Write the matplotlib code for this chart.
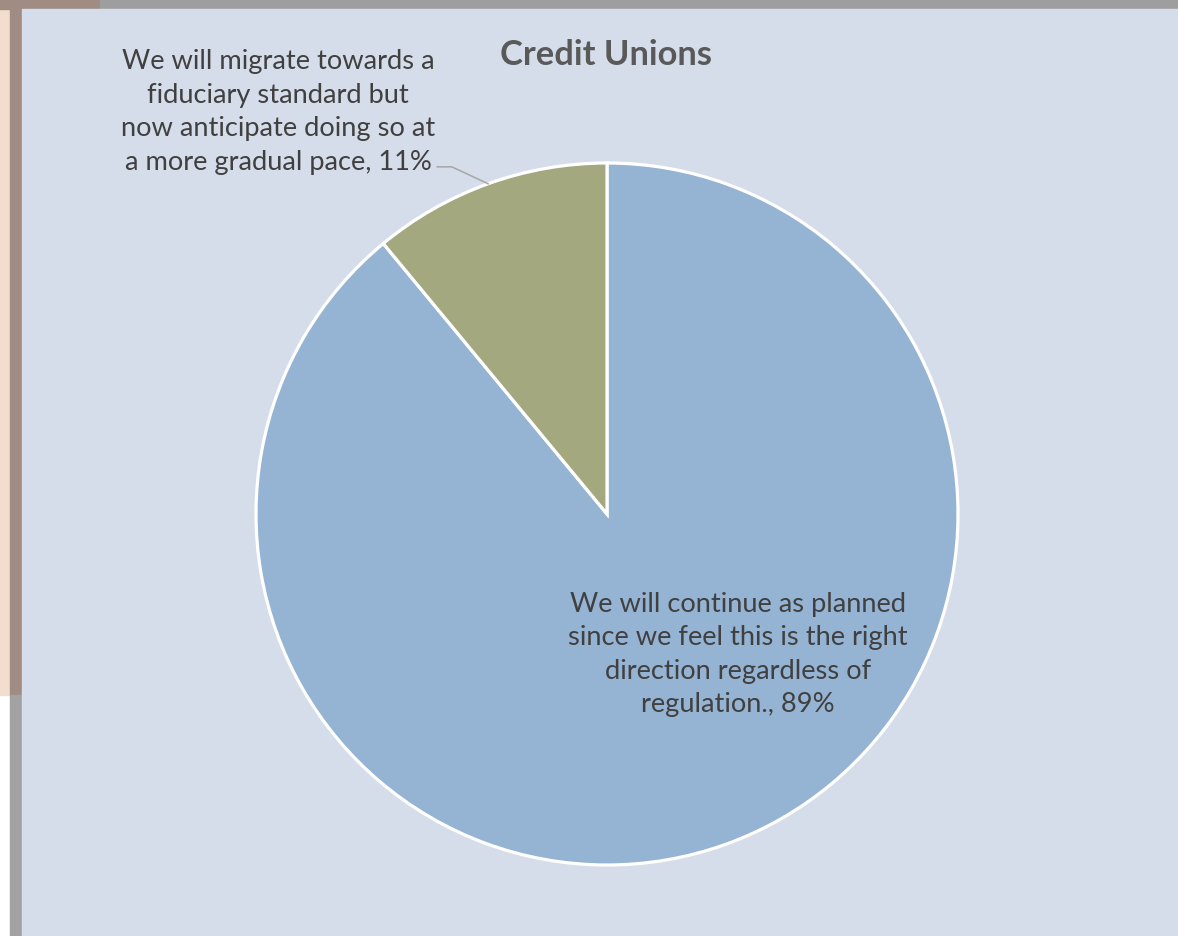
import numpy as np
import matplotlib.pyplot as plt
from matplotlib.patches import Rectangle

plt.rcParams['font.family'] = ['Lato', 'DejaVu Sans']

title = "Credit Unions"
labels = ["We will continue as planned\nsince we feel this is the right\ndirection regardless of\nregulation., 89%",
          "We will migrate towards a\nfiduciary standard but\nnow anticipate doing so at\na more gradual pace, 11%"]
values = [89, 11]
colors = ["#95B3D3", "#A3A87E"]

W, H = 1178, 936
fig = plt.figure(figsize=(W / 100, H / 100), dpi=100)
fig.patch.set_facecolor("white")

# frame / shadow pieces around the chart area
def px_rect(x0, y0, x1, y1, color):
    fig.patches.append(Rectangle((x0 / W, 1 - y1 / H), (x1 - x0) / W, (y1 - y0) / H,
                                 transform=fig.transFigure, color=color, zorder=-5))

px_rect(0, 0, 12, 695, "#F3DDCE")
px_rect(10, 0, 22, 695, "#A08C82")
px_rect(0, 0, 100, 9, "#A08C82")
px_rect(100, 0, W, 9, "#9E9E9E")
px_rect(10, 695, 22, H, "#A2A2A2")
px_rect(22, 9, W, H, "#D6DDEA")

# pie axes: centre (607,514) px, radius 351 px
cx, cy, r = 607, 514, 351
ax = fig.add_axes([(cx - r) / W, 1 - (cy + r) / H, 2 * r / W, 2 * r / H])
wedges, _ = ax.pie(values, colors=colors, startangle=90, counterclock=False,
                   wedgeprops=dict(edgecolor="white", linewidth=2.3))
ax.set_xlim(-1, 1)
ax.set_ylim(-1, 1)
ax.set_aspect("equal")
ax.axis("off")
for w in wedges:
    w.set_clip_on(False)

tc = "#404040"
ax.text(0.373, -0.40, labels[0], ha="center", va="center", fontsize=19.6,
        color=tc, linespacing=1.43, clip_on=False)
ax.text(-0.937, 1.145, labels[1], ha="center", va="center", fontsize=19.6,
        color=tc, linespacing=1.43, clip_on=False)

# leader line for the small slice
w = wedges[1]
mid = np.deg2rad((w.theta1 + w.theta2) / 2)
px, py = np.cos(mid), np.sin(mid)
ax.plot([-0.484, -0.442, px], [0.989, 0.989, py], color="#A6A6A6", lw=1.1,
        clip_on=False)

fig.text(606 / W, 1 - 55 / H, title, ha="center", va="center", fontsize=24.8,
         fontweight="bold", color="#595959")

fig.savefig("out.png", dpi=100)
